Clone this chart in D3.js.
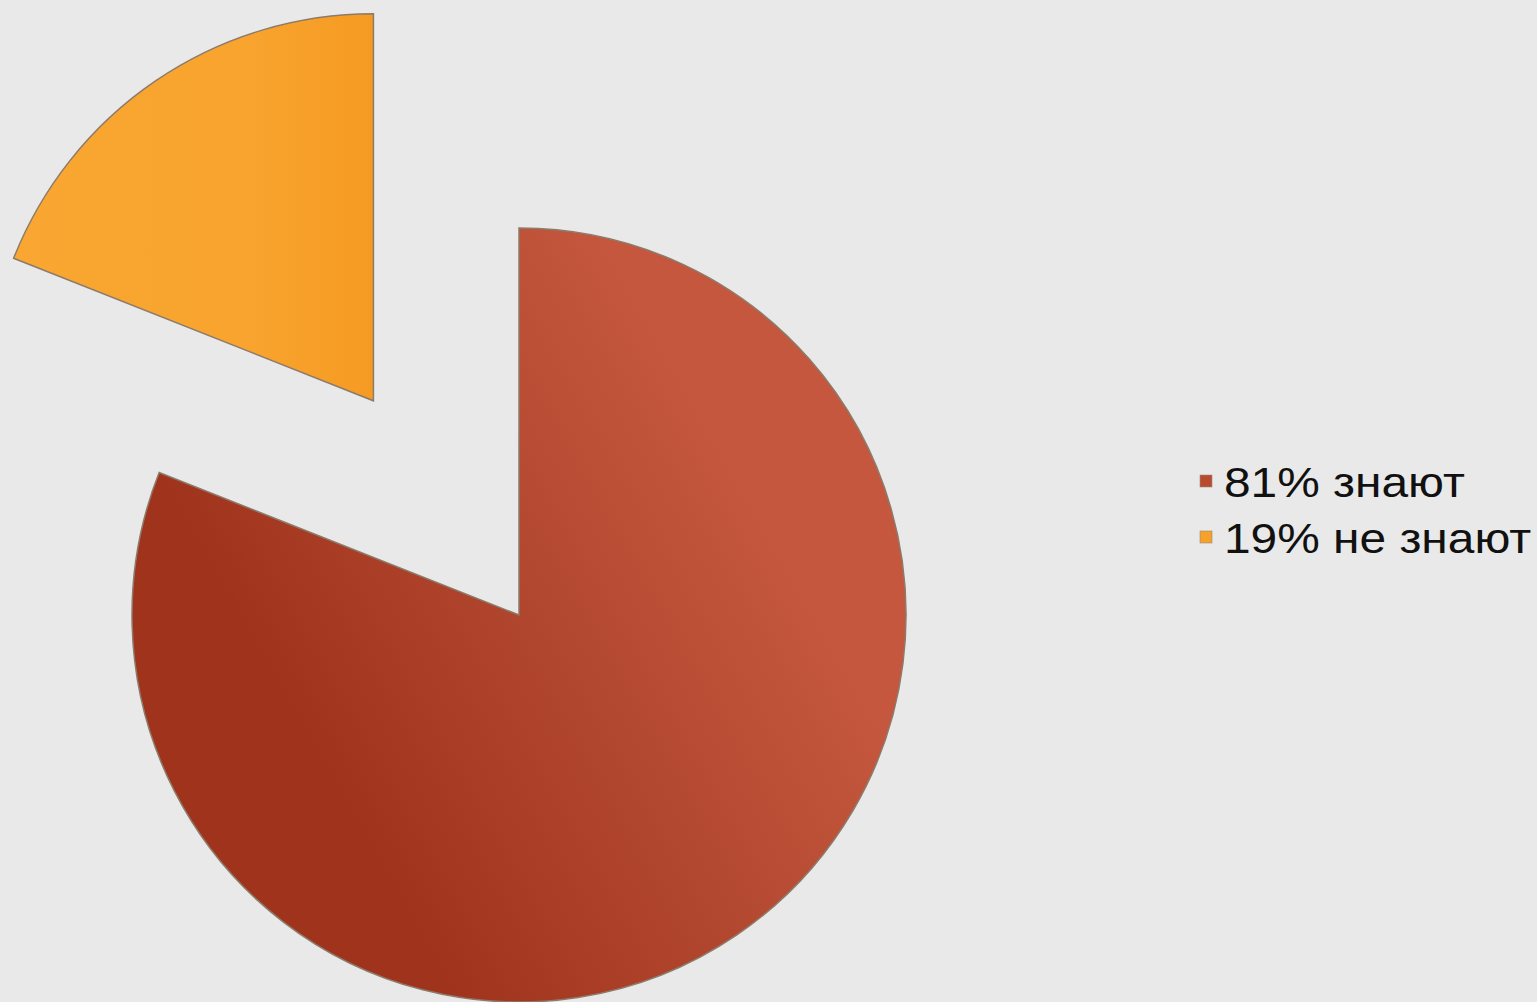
<!DOCTYPE html>
<html>
    <head>
        <script src="https://cdnjs.cloudflare.com/ajax/libs/d3/7.8.5/d3.min.js"></script>
        <title>Pie Chart</title>
        <style>
            html, body {
                height: 100%;
                margin: 0;
                background-color: #e9e9e9;
            }
            .svg_canvas {
                display: block;
            }
        </style>
    </head>
    <body>
        <svg height="1002" width="1537" class="svg_canvas"></svg>

        <script>
            var labels = ["81% знают", "19% не знают"];
            var values = [81, 19];
            var exploded = [0, 1];

            var colors = ["#b84a30", "#f7a02a"];

            var svg = d3.select("svg");
            var defs = svg.append("defs");

            var redGrad = defs.append("linearGradient")
                .attr("id", "grad0")
                .attr("gradientUnits", "userSpaceOnUse")
                .attr("x1", 200).attr("y1", 850)
                .attr("x2", 640).attr("y2", 600);
            redGrad.append("stop").attr("offset", "0").attr("stop-color", "#a0331c");
            redGrad.append("stop").attr("offset", "0.55").attr("stop-color", "#b34830");
            redGrad.append("stop").attr("offset", "1").attr("stop-color", "#c4573e");

            var orangeGrad = defs.append("linearGradient")
                .attr("id", "grad1")
                .attr("x1", "0").attr("y1", "0")
                .attr("x2", "1").attr("y2", "0");
            orangeGrad.append("stop").attr("offset", "0").attr("stop-color", "#f9a732");
            orangeGrad.append("stop").attr("offset", "0.65").attr("stop-color", "#f8a42e");
            orangeGrad.append("stop").attr("offset", "1").attr("stop-color", "#f69a22");

            var radius = 387;
            var explode = 259;

            var pie = d3.pie()
                .sort(null)
                .value(function(d){ return d; });

            var path = d3.arc()
                .outerRadius(radius)
                .innerRadius(0);

            var g = svg.append("g")
                .attr("transform", "translate(519,615)");

            g.selectAll(".arc")
                .data(pie(values))
                .enter()
                .append("path")
                .attr("class", "arc")
                .attr("d", path)
                .attr("transform", function(d, i){
                    var a = (d.startAngle + d.endAngle) / 2;
                    var off = exploded[i] * explode;
                    return "translate(" + (Math.sin(a) * off) + "," + (-Math.cos(a) * off) + ")";
                })
                .style("fill", function(d, i){ return "url(#grad" + i + ")"; })
                .style("stroke", "#8c7b6b")
                .style("stroke-width", 1.5);

            var legend = svg.append("g")
                .attr("transform", "translate(1200,475)");

            var item = legend.selectAll(".item")
                .data(labels)
                .enter()
                .append("g")
                .attr("class", "item")
                .attr("transform", function(d, i){ return "translate(0," + (i * 56) + ")"; });

            item.append("rect")
                .attr("width", 12)
                .attr("height", 12)
                .style("fill", function(d, i){ return colors[i]; })
                .style("stroke", "#9a8a7a")
                .style("stroke-width", 0.6);

            item.append("text")
                .attr("transform", "translate(24,22) scale(1.14,1)")
                .style("font-family", "Liberation Sans, Arial, sans-serif")
                .style("font-size", "42px")
                .style("fill", "#111")
                .text(function(d){ return d; });
        </script>
    </body>
</html>
